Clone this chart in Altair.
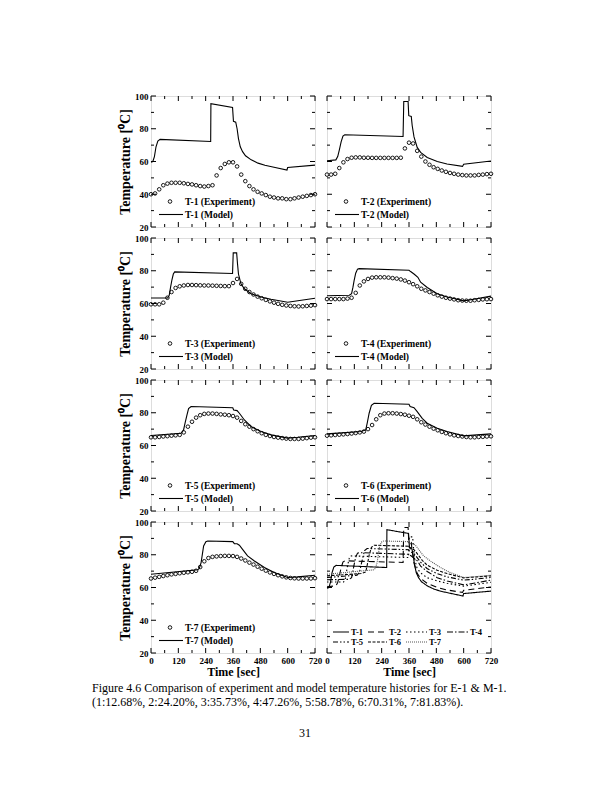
import altair as alt
import pandas as pd

FONT = "Liberation Serif"
W, H = 164, 131
HSP, VSP = 12, 11

# ---------------- data ----------------
TIME = list(range(0, 721, 18))

T1_EXP = [40, 40.5, 43, 45.5, 46.5, 47, 47, 47, 46.7, 46.3, 46, 45.5, 45, 44.7, 45, 45.5, 51.5, 56, 58.5, 59.5,
          59.5, 57, 52, 48, 45, 43, 41.5, 40.5, 39.5, 38.5, 38, 37.5, 37.5, 37, 37, 37.5, 38, 38.5, 39, 39.5, 40]
T2_EXP = [52, 52, 52.5, 56, 59.5, 61.5, 62.3, 62.5, 62.5, 62.3, 62.3, 62.2, 62.2, 62.2, 62.2, 62.2, 62.2, 62.2, 62.3, 68,
          71.5, 71, 66.5, 63, 60, 58, 56.5, 55.5, 54.5, 53.7, 53, 52.5, 52, 51.7, 51.5, 51.5, 51.5, 51.8, 52, 52.3, 52.5]
T3_EXP = [59.5, 59.5, 59.5, 60.5, 63.5, 67, 69.5, 70.5, 71, 71.3, 71.3, 71.2, 71.1, 71, 71, 70.9, 70.8, 70.7, 70.6, 70.6,
          72.5, 75, 72, 69, 67, 65.5, 64.2, 63.2, 62.2, 61.3, 60.5, 59.8, 59.2, 58.8, 58.5, 58.3, 58.2, 58.3, 58.5, 58.7, 59]
T4_EXP = [62.7, 62.7, 62.7, 62.7, 62.7, 63, 63.5, 66.5, 71, 73.5, 75, 75.8, 76, 76, 76, 75.8, 75.5, 75.2, 74.7, 74,
          73, 71.8, 70.5, 69, 68, 67, 66, 65, 64.2, 63.5, 63, 62.5, 62, 61.8, 61.7, 61.7, 62, 62.2, 62.5, 62.6, 62.7]
T5_EXP = [65, 65, 65.2, 65.5, 65.7, 66, 66.2, 66.5, 68, 71.5, 74.5, 77, 78.5, 79.3, 79.5, 79.5, 79.3, 79, 78.8, 78.5,
          78, 77, 75, 73, 71.5, 70, 68.7, 67.5, 66.5, 65.8, 65.2, 64.8, 64.5, 64.2, 64, 64, 64, 64.2, 64.5, 64.8, 65]
T6_EXP = [66, 66.2, 66.4, 66.6, 66.8, 67, 67.3, 67.6, 68, 68.5, 70, 72.5, 76, 78.5, 79.5, 79.7, 79.7, 79.5, 79.2, 78.8,
          78.2, 77.5, 76, 74.2, 72.8, 71.5, 70.3, 69.3, 68.3, 67.5, 66.8, 66.2, 65.8, 65.5, 65.2, 65, 65, 65.2, 65.3, 65.5, 65.6]
T7_EXP = [65.5, 66, 66.5, 67, 67.5, 68, 68.3, 68.7, 69, 69.3, 69.6, 70.2, 72.5, 76, 78, 78.7, 79, 79.2, 79.3, 79.3,
          79.2, 78.7, 77.7, 76.5, 75.2, 74, 72.7, 71.5, 70.3, 69.2, 68.3, 67.5, 66.8, 66.2, 65.8, 65.6, 65.5, 65.5, 65.5, 65.5, 65.7]

T1_MOD_T = [0, 8, 15, 22, 30, 40, 262, 263, 358, 362, 372, 378, 384, 392, 402, 415, 440, 470, 500, 540, 597, 600, 720]
T1_MOD_V = [59.5, 60, 63, 69, 72.5, 73.5, 72.2, 95.3, 93.0, 84.5, 84.0, 80, 74, 69, 66, 63.5, 61, 59, 57.7, 56.5, 54.8, 56.3, 57.8]
T2_MOD_T = [0, 39, 47, 54, 62, 70, 78, 334, 337, 356, 359, 370, 374, 382, 396, 411, 440, 484, 527, 595, 600, 720]
T2_MOD_V = [60.5, 61, 63, 67, 72, 75.5, 76.3, 75.3, 96.6, 96.6, 88, 87.5, 82, 75, 68.6, 65.6, 62.5, 60, 58.5, 57, 58.3, 60.3]
T3_MOD_T = [0, 73, 80, 86, 92, 98, 104, 358, 361, 376, 380, 384, 395, 410, 439, 483, 527, 600, 720]
T3_MOD_V = [63.4, 63.4, 65, 70, 74.5, 78, 79.3, 78.3, 90.9, 90.9, 84, 78, 72, 69, 66, 64, 62.6, 60.8, 63.2]
T4_MOD_T = [0, 98, 108, 114, 119, 126, 134, 141, 360, 367, 382, 399, 411, 440, 484, 527, 557, 600, 644, 720]
T4_MOD_V = [64.7, 65, 66, 70, 74, 78.5, 81, 81.3, 80.3, 79.5, 78, 76, 73, 69.8, 66, 64, 63, 61.6, 62.6, 64.5]
T5_MOD_T = [0, 132, 143, 150, 158, 165, 176, 359, 363, 378, 388, 410, 439, 483, 527, 600, 644, 720]
T5_MOD_V = [66.1, 67.5, 69.5, 74, 78.7, 82.5, 83.8, 83.1, 81.7, 81.3, 79.7, 75.6, 71.6, 68.5, 66.5, 64.5, 65, 66.1]
T6_MOD_T = [0, 149, 170, 177, 185, 195, 207, 360, 365, 382, 396, 418, 440, 484, 527, 600, 659, 720]
T6_MOD_V = [67.1, 68.5, 69.5, 74, 79.7, 84.5, 85.8, 85.2, 83.8, 83.1, 80.7, 76.6, 73.6, 70.5, 68.5, 65.9, 66.5, 67.1]
T7_MOD_T = [0, 205, 212, 220, 231, 241, 249, 359, 366, 378, 388, 402, 424, 454, 498, 541, 600, 644, 720]
T7_MOD_V = [68.1, 70.8, 71.6, 75.2, 85.4, 88, 88.4, 88, 86.8, 86.7, 85.8, 83.3, 79.3, 76.2, 72.2, 69.1, 66.1, 66.5, 67.5]

NAMES = ["T-1", "T-2", "T-3", "T-4", "T-5", "T-6", "T-7"]
EXPS = [T1_EXP, T2_EXP, T3_EXP, T4_EXP, T5_EXP, T6_EXP, T7_EXP]
MODS = [(T1_MOD_T, T1_MOD_V), (T2_MOD_T, T2_MOD_V), (T3_MOD_T, T3_MOD_V), (T4_MOD_T, T4_MOD_V),
        (T5_MOD_T, T5_MOD_V), (T6_MOD_T, T6_MOD_V), (T7_MOD_T, T7_MOD_V)]
DASHES = [[1, 0], [6, 4], [1.5, 2.5], [6, 2, 1.5, 2], [5, 2, 1.5, 2, 1.5, 2], [3, 1.5], [1, 1]]
DCOLORS = ["black", "black", "black", "black", "black", "black", "#555555"]

XMAJOR = [0, 120, 240, 360, 480, 600, 720]
XMINOR = [60, 180, 300, 420, 540, 660]
YMAJOR = [20, 40, 60, 80, 100]
YMINOR = [30, 50, 70, 90]

CAPTION1 = "Figure 4.6 Comparison of experiment and model temperature histories for E-1 & M-1."
CAPTION2 = "(1:12.68%, 2:24.20%, 3:35.73%, 4:47.26%, 5:58.78%, 6:70.31%, 7:81.83%)."
PAGE = "31"

ONE = pd.DataFrame({"k": [0]})


def xenc(labels):
    sc = alt.Scale(domain=[0, 720], nice=False, zero=False)
    if labels:
        ax = alt.Axis(values=XMAJOR, title="Time [sec]", ticks=False, domain=False, grid=False,
                      labelFont=FONT, labelFontWeight="bold", labelFontSize=9, labelColor="black",
                      labelPadding=3, labelFlush=False, labelOverlap=False,
                      titleFont=FONT, titleFontWeight="bold", titleFontSize=12, titleColor="black",
                      titlePadding=1)
        return alt.X("time:Q", scale=sc, axis=ax)
    return alt.X("time:Q", scale=sc, axis=None)


def yenc(labels):
    sc = alt.Scale(domain=[20, 100], nice=False, zero=False)
    if labels:
        ax = alt.Axis(values=YMAJOR, title="Temperature [\u2070C]", ticks=False, domain=False, grid=False,
                      labelFont=FONT, labelFontWeight="bold", labelFontSize=9, labelColor="black",
                      labelPadding=3, labelFlush=False, labelOverlap=False,
                      titleFont=FONT, titleFontWeight="bold", titleFontSize=14, titleColor="black",
                      titlePadding=2)
        return alt.Y("temp:Q", scale=sc, axis=ax)
    return alt.Y("temp:Q", scale=sc, axis=None)


def tick_layers(X, Y):
    out = []
    for vals, L in [(XMAJOR, 5), (XMINOR, 3)]:
        d = pd.DataFrame({"time": vals})
        out.append(alt.Chart(d).mark_rule(color="black", strokeWidth=1).encode(
            x=X, y=alt.value(H), y2=alt.value(H - L)))
        out.append(alt.Chart(d).mark_rule(color="black", strokeWidth=1).encode(
            x=X, y=alt.value(0), y2=alt.value(L)))
    for vals, L in [(YMAJOR, 5), (YMINOR, 3)]:
        d = pd.DataFrame({"temp": vals})
        out.append(alt.Chart(d).mark_rule(color="black", strokeWidth=1).encode(
            y=Y, x=alt.value(0), x2=alt.value(L)))
        out.append(alt.Chart(d).mark_rule(color="black", strokeWidth=1).encode(
            y=Y, x=alt.value(W), x2=alt.value(W - L)))
    return out


def txt(s, x, y, size=9.5, align="left", weight="bold"):
    return alt.Chart(ONE).mark_text(text=s, align=align, baseline="middle", font=FONT,
                                    fontWeight=weight, fontSize=size, color="black").encode(
        x=alt.value(x), y=alt.value(y))


def panel(i, xl, yl, pin=False):
    name = NAMES[i]
    mt, mv = MODS[i]
    X, Y = xenc(xl), yenc(yl)
    mdf = pd.DataFrame({"time": mt, "temp": mv})
    edf = pd.DataFrame({"time": TIME, "temp": EXPS[i]})
    line = alt.Chart(mdf).mark_line(color="black", strokeWidth=1.1).encode(x=X, y=Y)
    pts = alt.Chart(edf).mark_point(shape="circle", filled=False, color="black", size=13,
                                    strokeWidth=0.9, opacity=1).encode(x=X, y=Y)
    leg = [
        alt.Chart(ONE).mark_point(shape="circle", filled=False, color="black", size=13,
                                  strokeWidth=0.9, opacity=1).encode(x=alt.value(19), y=alt.value(105.5)),
        txt(f"{name} (Experiment)", 34, 105.5),
        alt.Chart(ONE).mark_rule(color="black", strokeWidth=1.1).encode(
            x=alt.value(8), x2=alt.value(32), y=alt.value(118.5)),
        txt(f"{name} (Model)", 34, 118.5),
    ]
    layers = [line, pts] + tick_layers(X, Y) + leg
    if pin:
        layers.append(alt.Chart(ONE).mark_rule(opacity=0, strokeWidth=1).encode(
            x=alt.value(-142), x2=alt.value(-140), y=alt.value(-87.5)))
    return alt.layer(*layers).properties(width=W, height=H)


def all_panel():
    X, Y = xenc(True), yenc(False)
    layers = []
    for i in range(7):
        mt, mv = MODS[i]
        mdf = pd.DataFrame({"time": mt, "temp": mv})
        layers.append(alt.Chart(mdf).mark_line(color=DCOLORS[i], strokeWidth=1.1,
                                               strokeDash=DASHES[i]).encode(x=X, y=Y))
    layers += tick_layers(X, Y)
    spec = [
        (0, 6, 22, 24, 110), (1, 41, 60, 62, 110), (2, 79, 100, 102, 110), (3, 120, 141, 143, 110),
        (4, 6, 22, 24, 120), (5, 41, 60, 62, 120), (6, 79, 100, 102, 120),
    ]
    for i, x1, x2, tx, y in spec:
        layers.append(alt.Chart(ONE).mark_rule(color=DCOLORS[i], strokeWidth=1.1,
                                               strokeDash=DASHES[i]).encode(
            x=alt.value(x1), x2=alt.value(x2), y=alt.value(y)))
        layers.append(txt(NAMES[i], tx, y, size=8.5))
    return alt.layer(*layers).properties(width=W, height=H)


caption = alt.layer(
    txt(CAPTION1, -59, 23.5, size=12, weight="normal"),
    txt(CAPTION2, -59, 37.5, size=12, weight="normal"),
    txt(PAGE, 154, 69, size=12, weight="normal", align="center"),
).properties(width=W, height=80, view=alt.ViewBackground(stroke="transparent"))

chart = alt.concat(
    panel(0, False, True, pin=True), panel(1, False, False),
    panel(2, False, True), panel(3, False, False),
    panel(4, False, True), panel(5, False, False),
    panel(6, True, True), all_panel(),
    caption,
    columns=2, spacing={"row": VSP, "column": HSP}, bounds="flush",
).properties(padding=0).configure_view(stroke="black", strokeWidth=1.6).configure(background="white")

chart.save("out.html", embed_options={"renderer": "svg", "actions": False})
